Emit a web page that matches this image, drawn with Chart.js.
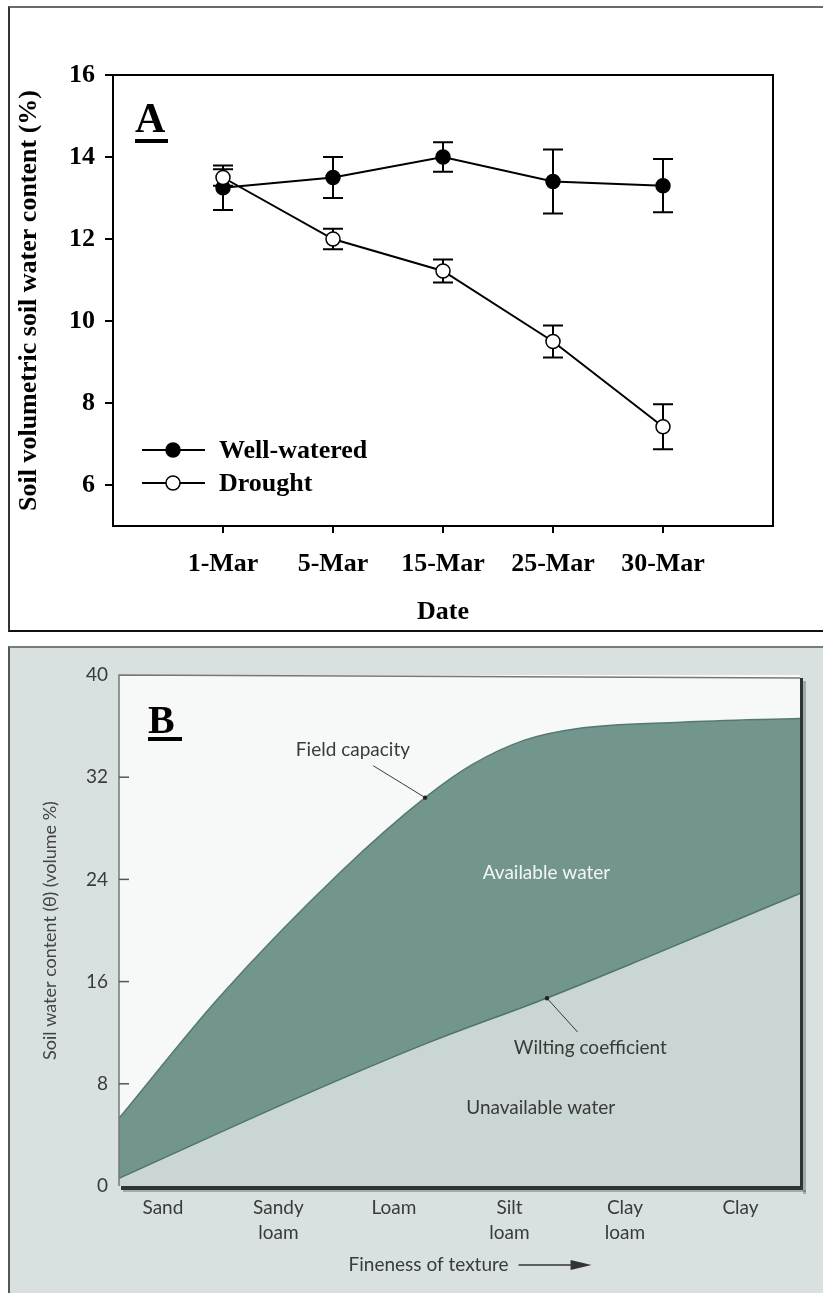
<!DOCTYPE html>
<html>
<head>
<meta charset="utf-8">
<script src="https://cdn.jsdelivr.net/npm/chart.js@4.4.1/dist/chart.umd.min.js"></script>
<style>
  body { margin: 0; background: #fff; width: 823px; height: 1293px; position: relative; overflow: hidden; }
  #frameA { position: absolute; left: 8px; top: 6px; width: 900px; height: 622px;
            border-top: 2px solid #6a6a6a; border-left: 2px solid #333; border-bottom: 2px solid #111; }
  #frameB { position: absolute; left: 8px; top: 646px; width: 900px; height: 700px;
            background: #d9e1e0; border-top: 2px solid #7a7a7a; border-left: 2px solid #555; }
  #boxA { position: absolute; left: 0; top: 0; width: 823px; height: 630px; }
  #boxB { position: absolute; left: 0; top: 648px; width: 823px; height: 645px; }
</style>
</head>
<body>
<div id="frameA"></div>
<div id="frameB"></div>
<div id="boxA"><canvas id="chartA" width="823" height="630"></canvas></div>
<div id="boxB"><canvas id="chartB" width="823" height="645"></canvas></div>
<script>
// Panel A data
const dates = ['1-Mar', '5-Mar', '15-Mar', '25-Mar', '30-Mar'];
const wellWatered = [13.25, 13.5, 14.0, 13.4, 13.3];
const wellWateredErr = [0.54, 0.5, 0.36, 0.78, 0.65];
const drought = [13.5, 12.0, 11.22, 9.5, 7.42];
const droughtErr = [0.2, 0.25, 0.28, 0.39, 0.55];
const yTicksA = [6, 8, 10, 12, 14, 16];

// Panel B data
const textures = ['Sand', 'Sandy loam', 'Loam', 'Silt loam', 'Clay loam', 'Clay'];
const fieldX = [0.62, 1.49, 2.54, 3.27, 3.68, 4.13, 4.58, 5.49, 6.515];
const fieldCapacity = [5.3, 14.8, 24.6, 30.4, 33.0, 34.9, 35.8, 36.3, 36.6];
const wiltX = [0.62, 2.19, 3.32, 4.32, 5.19, 6.515];
const wiltingCoeff = [0.6, 7.0, 11.3, 14.7, 17.9, 22.9];
const yTicksB = [0, 8, 16, 24, 32, 40];

const serif = '"Liberation Serif", "Times New Roman", serif';
const sans = 'Lato, "Open Sans", sans-serif';

// error bars, frame box, letter and legend for panel A
const panelA = {
  id: 'panelA',
  beforeDatasetsDraw(chart) {
    const ctx = chart.ctx, y = chart.scales.y;
    ctx.save();
    ctx.strokeStyle = '#000';
    ctx.lineWidth = 2;
    chart.data.datasets.forEach((ds, di) => {
      chart.getDatasetMeta(di).data.forEach((pt, i) => {
        const top = y.getPixelForValue(ds.data[i].y + ds.errors[i]);
        const bot = y.getPixelForValue(ds.data[i].y - ds.errors[i]);
        ctx.beginPath();
        ctx.moveTo(pt.x, top); ctx.lineTo(pt.x, bot);
        ctx.moveTo(pt.x - 10, top); ctx.lineTo(pt.x + 10, top);
        ctx.moveTo(pt.x - 10, bot); ctx.lineTo(pt.x + 10, bot);
        ctx.stroke();
      });
    });
    ctx.restore();
  },
  afterDraw(chart) {
    const {ctx, chartArea: a} = chart;
    ctx.save();
    ctx.strokeStyle = '#000';
    ctx.lineWidth = 2;
    ctx.strokeRect(a.left, a.top, a.right - a.left, a.bottom - a.top);

    ctx.fillStyle = '#000';
    ctx.font = 'bold 42px ' + serif;
    ctx.textBaseline = 'alphabetic';
    ctx.fillText('A', 135, 132);
    ctx.fillRect(135, 139, 33, 4);

    chart.data.datasets.forEach((ds, i) => {
      const ly = 450 + i * 33;
      ctx.strokeStyle = '#000';
      ctx.lineWidth = 2;
      ctx.beginPath();
      ctx.moveTo(142, ly); ctx.lineTo(205, ly);
      ctx.stroke();
      ctx.beginPath();
      ctx.arc(173, ly, 7, 0, Math.PI * 2);
      ctx.fillStyle = ds.pointBackgroundColor;
      ctx.fill();
      ctx.lineWidth = 1.5;
      ctx.stroke();
      ctx.fillStyle = '#000';
      ctx.font = 'bold 26px ' + serif;
      ctx.textBaseline = 'middle';
      ctx.fillText(ds.label, 219, ly + 1);
    });
    ctx.restore();
  }
};

new Chart(document.getElementById('chartA'), {
  type: 'line',
  data: {
    datasets: [
      {
        label: 'Well-watered',
        data: dates.map((d, i) => ({x: i + 1, y: wellWatered[i]})),
        errors: wellWateredErr,
        borderColor: '#000',
        borderWidth: 2,
        pointRadius: 7,
        pointBackgroundColor: '#000',
        pointBorderColor: '#000',
        pointBorderWidth: 1.5,
        order: 2
      },
      {
        label: 'Drought',
        data: dates.map((d, i) => ({x: i + 1, y: drought[i]})),
        errors: droughtErr,
        borderColor: '#000',
        borderWidth: 2,
        pointRadius: 7,
        pointBackgroundColor: '#fff',
        pointBorderColor: '#000',
        pointBorderWidth: 1.5,
        order: 1
      }
    ]
  },
  options: {
    responsive: false,
    animation: false,
    layout: {padding: {top: 75, right: 50, left: 0, bottom: 0}},
    plugins: {legend: {display: false}, tooltip: {enabled: false}},
    scales: {
      x: {
        type: 'linear',
        min: 0,
        max: dates.length + 1,
        afterFit: (s) => { s.height = 104; },
        afterBuildTicks: (s) => { s.ticks = dates.map((d, i) => ({value: i + 1})); },
        grid: {drawOnChartArea: false, color: '#000', lineWidth: 2, tickLength: 7},
        border: {display: true, color: '#000', width: 2},
        ticks: {
          autoSkip: false, maxRotation: 0, padding: 16, color: '#000',
          font: {family: serif, size: 26, weight: 'bold'},
          callback: (v) => dates[v - 1]
        },
        title: {display: true, text: 'Date', color: '#000', padding: {top: 0, bottom: 2},
                font: {family: serif, size: 26, weight: 'bold'}}
      },
      y: {
        min: 5,
        max: 16,
        afterFit: (s) => { s.width = 113; },
        afterBuildTicks: (s) => { s.ticks = yTicksA.map(v => ({value: v})); },
        grid: {drawOnChartArea: false, color: '#000', lineWidth: 2, tickLength: 8},
        border: {display: true, color: '#000', width: 2},
        ticks: {padding: 10, color: '#000', font: {family: serif, size: 26, weight: 'bold'}},
        title: {display: true, text: 'Soil volumetric soil water content (%)', color: '#000',
                padding: {top: 14, bottom: 0}, font: {family: serif, size: 26, weight: 'bold'}}
      }
    }
  },
  plugins: [panelA]
});

// panel B: plot background, frame, inward ticks, labels
const xTitleB = 'Fineness of texture' + '\u2003\u2003\u2003\u2003 ';
const panelB = {
  id: 'panelB',
  beforeDraw(chart) {
    const {ctx, chartArea: a} = chart;
    ctx.save();
    ctx.fillStyle = '#f7f8f8';
    ctx.fillRect(a.left, a.top, a.right - a.left, a.bottom - a.top);
    ctx.restore();
  },
  afterDraw(chart) {
    const {ctx, chartArea: a, scales: {x, y}} = chart;
    ctx.save();
    // frame
    ctx.strokeStyle = '#777';
    ctx.lineWidth = 1.5;
    ctx.beginPath();
    ctx.moveTo(a.left, a.bottom); ctx.lineTo(a.left, a.top); ctx.lineTo(a.right, a.top + 3);
    ctx.stroke();
    ctx.fillStyle = '#2f3332';
    ctx.fillRect(a.right, a.top + 3, 3, a.bottom - a.top);
    ctx.fillRect(a.left + 2, a.bottom, a.right - a.left + 1, 4);
    ctx.fillStyle = 'rgba(60,70,68,0.35)';
    ctx.fillRect(a.right + 3, a.top + 6, 3, a.bottom - a.top + 2);
    ctx.fillRect(a.left + 4, a.bottom + 4, a.right - a.left + 2, 2);

    // inward y ticks
    ctx.strokeStyle = '#555';
    ctx.lineWidth = 1.5;
    y.ticks.forEach(t => {
      const py = y.getPixelForValue(t.value);
      if (t.value === 0 || t.value === 40) return;
      ctx.beginPath();
      ctx.moveTo(a.left, py); ctx.lineTo(a.left + 10, py);
      ctx.stroke();
    });

    // letter B
    ctx.fillStyle = '#000';
    ctx.font = 'bold 40px ' + serif;
    ctx.textBaseline = 'alphabetic';
    ctx.fillText('B', 148, 85);
    ctx.fillRect(148, 89, 34, 4);

    // annotations
    ctx.font = '19px ' + sans;
    ctx.textAlign = 'center';
    ctx.textBaseline = 'middle';
    ctx.fillStyle = '#3a3a3a';
    ctx.fillText('Field capacity', x.getPixelForValue(2.645), y.getPixelForValue(34.1));
    ctx.fillText('Wilting coefficient', x.getPixelForValue(4.70), y.getPixelForValue(10.8));
    ctx.fillText('Unavailable water', x.getPixelForValue(4.27), y.getPixelForValue(6.1));
    ctx.fillStyle = '#f4f6f5';
    ctx.fillText('Available water', x.getPixelForValue(4.32), y.getPixelForValue(24.5));

    ctx.strokeStyle = '#3a3a3a';
    ctx.fillStyle = '#222';
    ctx.lineWidth = 1;
    [[2.82, 32.9, 3.27, 30.4], [4.59, 12.05, 4.325, 14.7]].forEach(p => {
      const x1 = x.getPixelForValue(p[0]), y1 = y.getPixelForValue(p[1]);
      const x2 = x.getPixelForValue(p[2]), y2 = y.getPixelForValue(p[3]);
      ctx.beginPath(); ctx.moveTo(x1, y1); ctx.lineTo(x2, y2); ctx.stroke();
      ctx.beginPath(); ctx.arc(x2, y2, 2.2, 0, Math.PI * 2); ctx.fill();
    });

    // arrow after the x title
    ctx.font = '19px ' + sans;
    const full = ctx.measureText(xTitleB).width;
    const word = ctx.measureText('Fineness of texture').width;
    const cx = (x.left + x.right) / 2;
    const ax = cx - full / 2 + word + 10;
    const ay = 617;
    ctx.strokeStyle = '#333';
    ctx.lineWidth = 1.5;
    ctx.beginPath(); ctx.moveTo(ax, ay); ctx.lineTo(ax + 56, ay); ctx.stroke();
    ctx.fillStyle = '#333';
    ctx.beginPath();
    ctx.moveTo(ax + 52, ay - 5); ctx.lineTo(ax + 73, ay); ctx.lineTo(ax + 52, ay + 5);
    ctx.closePath(); ctx.fill();
    ctx.restore();
  }
};

new Chart(document.getElementById('chartB'), {
  type: 'line',
  data: {
    datasets: [
      {
        label: 'Field capacity',
        data: fieldX.map((v, i) => ({x: v, y: fieldCapacity[i]})),
        borderColor: '#55796f',
        borderWidth: 1.5,
        backgroundColor: '#72958d',
        fill: 'origin',
        pointRadius: 0,
        cubicInterpolationMode: 'monotone',
        order: 2
      },
      {
        label: 'Wilting coefficient',
        data: wiltX.map((v, i) => ({x: v, y: wiltingCoeff[i]})),
        borderColor: '#4f756b',
        borderWidth: 1.5,
        backgroundColor: '#c9d6d3',
        fill: 'origin',
        pointRadius: 0,
        cubicInterpolationMode: 'monotone',
        order: 1
      }
    ]
  },
  options: {
    responsive: false,
    animation: false,
    layout: {padding: {top: 27, right: 23, left: 0, bottom: 0}},
    plugins: {legend: {display: false}, tooltip: {enabled: false}},
    scales: {
      x: {
        type: 'linear',
        min: 0.62,
        max: 6.515,
        afterFit: (s) => { s.height = 107; },
        afterBuildTicks: (s) => { s.ticks = textures.map((t, i) => ({value: i + 1})); },
        grid: {display: false, drawTicks: false},
        border: {display: false},
        ticks: {
          autoSkip: false, maxRotation: 0, padding: 10, color: '#3a3a3a',
          font: {family: sans, size: 19, lineHeight: 1.3},
          callback: (v) => textures[v - 1].split(' ')
        },
        title: {display: true, text: xTitleB, color: '#3a3a3a', padding: {top: 0, bottom: 17},
                font: {family: sans, size: 19}}
      },
      y: {
        min: 0,
        max: 40,
        afterFit: (s) => { s.width = 119; },
        afterBuildTicks: (s) => { s.ticks = yTicksB.map(v => ({value: v})); },
        grid: {display: false, drawTicks: false},
        border: {display: false},
        ticks: {padding: 11, color: '#3a3a3a', font: {family: sans, size: 19}},
        title: {display: true, text: 'Soil water content (\u03b8) (volume %)', color: '#444',
                padding: {top: 39, bottom: 0}, font: {family: sans, size: 18}}
      }
    }
  },
  plugins: [panelB]
});
</script>
</body>
</html>
